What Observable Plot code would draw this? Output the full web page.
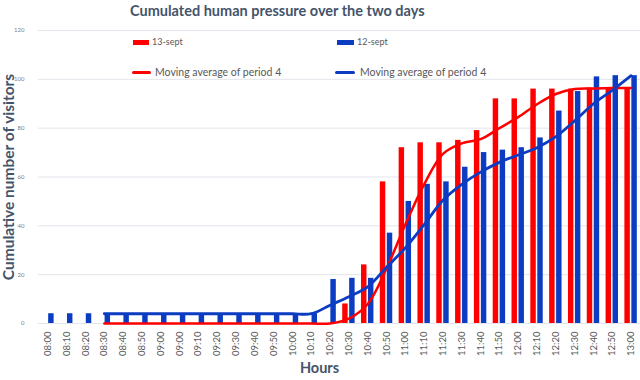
<!DOCTYPE html>
<html>
<head>
<meta charset="utf-8">
<script src="https://cdn.jsdelivr.net/npm/d3@7"></script>
<script src="https://cdn.jsdelivr.net/npm/@observablehq/plot@0.6"></script>
<style>
  body { margin: 0; background: #fff; font-family: Lato, "Open Sans", sans-serif; }
  #wrap { position: relative; width: 640px; height: 380px; overflow: hidden; }
  #title { height: 22px; line-height: 22px; padding-left: 130px; font-weight: 700; font-size: 14.5px; color: #44546a; white-space: nowrap; }
  .lg { position: absolute; font-family: Lato, sans-serif; color: #595959; white-space: nowrap; line-height: 12px; }
  .sw { position: absolute; }
</style>
</head>
<body>
<div id="wrap">
  <div id="title">Cumulated human pressure over the two days</div>
  <div id="chart"></div>
  <div id="legend"></div>
</div>
<script>
const labels = ["08:00","08:10","08:20","08:30","08:40","08:50","09:00","09:00","09:10","09:20","09:30","09:40","09:50","10:00","10:10","10:20","10:30","10:40","10:50","11:00","11:10","11:20","11:30","11:40","11:50","12:00","12:10","12:20","12:30","12:40","12:50","13:00"];
const sept13 = [0,0,0,0,0,0,0,0,0,0,0,0,0,0,0,0,8,24,58,72,74,74,75,79,92,92,96,96,96,96.5,96.5,96.5];
const sept12 = [4,4,4,4,4,4,4,4,4,4,4,4,4,4,4,18,18.5,18.5,37,50,57,58,64,70,71,72,76,87,95,101,101.5,101.5];
const ma13 = [null,null,null,0,0,0,0,0,0,0,0,0,0,0,0,0,2,8,22.5,40.5,57,69.5,73.8,75.5,80,84.5,89.8,94,96,96.2,96.4,96.5];
const ma12 = [null,null,null,4,4,4,4,4,4,4,4,4,4,4,4,7.5,11,15,23,31,40.5,50.5,57,62,66,69,72,76.5,83,90,95.5,101.5];
const yTicks = [0,20,40,60,80,100,120];
const seriesNames = ["13-sept","12-sept"];
const maName = "Moving average of period 4";
const yLabel = "Cumulative number of visitors";
const xLabel = "Hours";

const RED = "#ff0000", BLUE = "#0b3cc1";
const idx = d3.range(labels.length);
const rows = idx.map(i => ({i, s13: sept13[i], s12: sept12[i], m13: ma13[i], m12: ma12[i]}));

const chart = Plot.plot({
  width: 640, height: 358,
  marginLeft: 38, marginRight: 0, marginTop: 8, marginBottom: 57,
  style: {fontFamily: "Lato, 'Open Sans', sans-serif", background: "transparent", overflow: "visible"},
  x: {type: "linear", domain: [-0.5, labels.length - 0.5], axis: null},
  y: {domain: [0, 120], axis: null},
  marks: [
    Plot.ruleY(yTicks, {stroke: "#e3e5ec", strokeWidth: 1}),
    Plot.axisY(yTicks, {tickSize: 0, tickPadding: 14, fontSize: 6, color: "#808080", label: null}),
    Plot.axisX(idx, {tickSize: 0, tickPadding: 8, tickRotate: -90, fontSize: 9.5, color: "#595959", tickFormat: i => labels[i], label: null}),
    Plot.rectY(rows, {x1: d => d.i - 0.33, x2: d => d.i - 0.04, y: "s13", fill: RED}),
    Plot.rectY(rows, {x1: d => d.i + 0.04, x2: d => d.i + 0.33, y: "s12", fill: BLUE}),
    Plot.line(rows.filter(d => d.m13 != null), {x: "i", y: "m13", stroke: RED, strokeWidth: 2.5, curve: "catmull-rom"}),
    Plot.line(rows.filter(d => d.m12 != null), {x: "i", y: "m12", stroke: BLUE, strokeWidth: 2.8, curve: "catmull-rom"}),
    Plot.text([yLabel], {frameAnchor: "left", dx: -29, rotate: -90, textAnchor: "middle", fontSize: 15.5, fontWeight: 700, fill: "#44546a"}),
    Plot.text([xLabel], {frameAnchor: "bottom", dy: 49, dx: -20, textAnchor: "middle", fontSize: 14.5, fontWeight: 700, fill: "#44546a"})
  ]
});
document.getElementById("chart").appendChild(chart);

const lg = document.getElementById("legend");
function add(html) { lg.insertAdjacentHTML("beforeend", html); }
add(`<div class="sw" style="left:133px;top:40px;width:16px;height:5px;background:${RED}"></div>`);
add(`<div class="lg" style="left:152px;top:36px;font-size:9px">${seriesNames[0]}</div>`);
add(`<div class="sw" style="left:337px;top:40px;width:17px;height:5px;background:${BLUE}"></div>`);
add(`<div class="lg" style="left:357px;top:36px;font-size:9px">${seriesNames[1]}</div>`);
add(`<div class="sw" style="left:132px;top:70.5px;width:19px;height:3px;border-radius:1.5px;background:${RED}"></div>`);
add(`<div class="lg" style="left:155px;top:66px;font-size:10.5px">${maName}</div>`);
add(`<div class="sw" style="left:335px;top:70.5px;width:20px;height:3px;border-radius:1.5px;background:${BLUE}"></div>`);
add(`<div class="lg" style="left:360px;top:66px;font-size:10.5px">${maName}</div>`);
</script>
</body>
</html>
